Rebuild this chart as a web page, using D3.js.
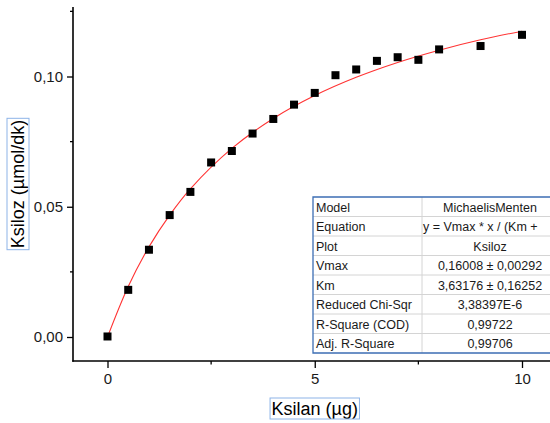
<!DOCTYPE html>
<html>
<head>
<meta charset="utf-8">
<script src="https://cdn.jsdelivr.net/npm/d3@7"></script>
<style>
  body { margin: 0; background: #fff; }
  svg { display: block; font-family: "Liberation Sans", Arial, sans-serif; }
</style>
</head>
<body>
<div id="chart"></div>
<script>
// measured points
var ksilan = [0, 0.5, 1, 1.5, 2, 2.5, 3, 3.5, 4, 4.5, 5, 5.5, 6, 6.5, 7, 7.5, 8, 9, 10];
var ksiloz = [0.0002, 0.0181, 0.0335, 0.0468, 0.0557, 0.0670, 0.0714, 0.0781, 0.0837, 0.0892,
              0.0937, 0.1005, 0.1027, 0.1060, 0.1074, 0.1064, 0.1104, 0.1117, 0.1160];

// fitted curve
var fitX = [0, 0.5, 1, 1.5, 2, 3, 4, 5, 6, 7, 8, 9, 10];
var fitY = [0, 0.0194, 0.0346, 0.0468, 0.0569, 0.0724, 0.0839, 0.0927, 0.0997, 0.1054, 0.1101, 0.1141, 0.1174];

var xMajor = [0, 5, 10];
var xMinor = [2.5, 7.5];
var yMajor = [0, 0.05, 0.10];
var yMinor = [0.025, 0.075, 0.125];

var tableLabels = ["Model", "Equation", "Plot", "Vmax", "Km", "Reduced Chi-Sqr", "R-Square (COD)", "Adj. R-Square"];
var tableValues = ["MichaelisMenten", "y = Vmax * x / (Km + x)", "Ksiloz", "0,16008 \u00b1 0,00292",
                   "3,63176 \u00b1 0,16252", "3,38397E-6", "0,99722", "0,99706"];

var width = 550, height = 423;
var axisX = 73, axisY = 361, axisTop = 7;

var svg = d3.select("#chart").append("svg")
    .attr("width", width)
    .attr("height", height);

var x = d3.scaleLinear().domain([0, 10]).range([107.5, 522]);
var y = d3.scaleLinear().domain([0, 0.10]).range([337, 76.5]);

var comma = function(d) { return d3.format(".2f")(d).replace(".", ","); };

// y axis
var gy = svg.append("g").attr("transform", "translate(" + axisX + ",0)");
gy.call(d3.axisLeft(y).tickValues(yMajor).tickFormat(comma).tickSize(6).tickSizeOuter(0))
  .call(function(g) { g.select(".domain").remove(); });
gy.selectAll(".tick line").attr("stroke", "#000").attr("stroke-width", 1.3);
gy.selectAll(".tick text").attr("font-size", 15).attr("fill", "#1a1a1a")
  .attr("font-family", "Liberation Sans, Arial, sans-serif").attr("x", -10);
gy.selectAll(".minor").data(yMinor).enter().append("line")
  .attr("x1", -3).attr("x2", 0)
  .attr("y1", function(d) { return y(d); }).attr("y2", function(d) { return y(d); })
  .attr("stroke", "#000").attr("stroke-width", 1.3);
gy.append("line").attr("x1", 0).attr("x2", 0).attr("y1", axisTop).attr("y2", axisY + 0.7)
  .attr("stroke", "#000").attr("stroke-width", 1.6);

// x axis
var gx = svg.append("g").attr("transform", "translate(0," + axisY + ")");
gx.call(d3.axisBottom(x).tickValues(xMajor).tickFormat(d3.format("d")).tickSize(7).tickSizeOuter(0))
  .call(function(g) { g.select(".domain").remove(); });
gx.selectAll(".tick line").attr("stroke", "#000").attr("stroke-width", 1.3);
gx.selectAll(".tick text").attr("font-size", 15).attr("fill", "#1a1a1a")
  .attr("font-family", "Liberation Sans, Arial, sans-serif").attr("y", 12);
gx.selectAll(".minor").data(xMinor).enter().append("line")
  .attr("y1", 0).attr("y2", 3.5)
  .attr("x1", function(d) { return x(d); }).attr("x2", function(d) { return x(d); })
  .attr("stroke", "#000").attr("stroke-width", 1.3);
gx.append("line").attr("x1", axisX - 0.7).attr("x2", width).attr("y1", 0).attr("y2", 0)
  .attr("stroke", "#000").attr("stroke-width", 1.6);

// fit line
var fitData = fitX.map(function(d, i) { return [d, fitY[i]]; });
svg.append("path")
  .datum(fitData)
  .attr("fill", "none")
  .attr("stroke", "#ff3333")
  .attr("stroke-width", 1.1)
  .attr("d", d3.line()
    .x(function(d) { return x(d[0]); })
    .y(function(d) { return y(d[1]); })
    .curve(d3.curveCatmullRom));

// data squares
var sq = 8;
svg.selectAll(".pt").data(ksilan).enter().append("rect")
  .attr("x", function(d) { return x(d) - sq / 2; })
  .attr("y", function(d, i) { return y(ksiloz[i]) - sq / 2; })
  .attr("width", sq).attr("height", sq)
  .attr("fill", "#000");

// axis titles with blue boxes
var xt = svg.append("text")
  .attr("x", x(5)).attr("y", 415)
  .attr("text-anchor", "middle")
  .attr("font-size", 18).attr("fill", "#000")
  .text("Ksilan (\u00b5g)");
var xb = xt.node().getBBox();
svg.append("rect")
  .attr("x", xb.x - 1.5).attr("y", 398).attr("width", xb.width + 3).attr("height", 21)
  .attr("fill", "none").attr("stroke", "#8db4e8").attr("stroke-width", 1);

var yt = svg.append("text")
  .attr("transform", "translate(24," + ((axisTop + axisY) / 2) + ") rotate(-90)")
  .attr("text-anchor", "middle")
  .attr("font-size", 18).attr("fill", "#000")
  .text("Ksiloz (\u00b5mol/dk)");
var yb = yt.node().getBBox();
svg.append("rect")
  .attr("x", 7).attr("y", (axisTop + axisY) / 2 - yb.width / 2 - 1.5)
  .attr("width", 22).attr("height", yb.width + 3)
  .attr("fill", "none").attr("stroke", "#8db4e8").attr("stroke-width", 1);

// fit results table
var tLeft = 313, tTop = 197, rowH = 19.5, colDiv = 422, tRight = 560;
var table = svg.append("g");
table.append("rect")
  .attr("x", tLeft).attr("y", tTop)
  .attr("width", tRight - tLeft).attr("height", rowH * tableLabels.length)
  .attr("fill", "#fff");
table.selectAll(".rowline").data(d3.range(1, tableLabels.length)).enter().append("line")
  .attr("x1", tLeft).attr("x2", tRight)
  .attr("y1", function(d) { return tTop + d * rowH; })
  .attr("y2", function(d) { return tTop + d * rowH; })
  .attr("stroke", "#d4d4d4").attr("stroke-width", 1);
table.append("line")
  .attr("x1", colDiv).attr("x2", colDiv)
  .attr("y1", tTop).attr("y2", tTop + rowH * tableLabels.length)
  .attr("stroke", "#d4d4d4").attr("stroke-width", 1);

// the equation is too long for its cell and gets cut
svg.append("clipPath").attr("id", "eqclip")
  .append("rect").attr("x", colDiv).attr("y", tTop).attr("width", 117).attr("height", rowH * 8);

table.selectAll(".lab").data(tableLabels).enter().append("text")
  .attr("x", tLeft + 3)
  .attr("y", function(d, i) { return tTop + i * rowH + 14.5; })
  .attr("font-size", 12.5).attr("fill", "#1a1a1a")
  .text(function(d) { return d; });
table.selectAll(".val").data(tableValues).enter().append("text")
  .attr("x", function(d, i) { return i === 1 ? colDiv + 1 : 490; })
  .attr("y", function(d, i) { return tTop + i * rowH + 14.5; })
  .attr("text-anchor", function(d, i) { return i === 1 ? "start" : "middle"; })
  .attr("clip-path", function(d, i) { return i === 1 ? "url(#eqclip)" : null; })
  .attr("font-size", 12.5).attr("fill", "#1a1a1a")
  .text(function(d) { return d; });

table.append("path")
  .attr("d", "M" + tRight + "," + tTop + "H" + tLeft + "V" + (tTop + rowH * 8) + "H" + tRight)
  .attr("fill", "none").attr("stroke", "#3c6eb4").attr("stroke-width", 1.3);
</script>
</body>
</html>
